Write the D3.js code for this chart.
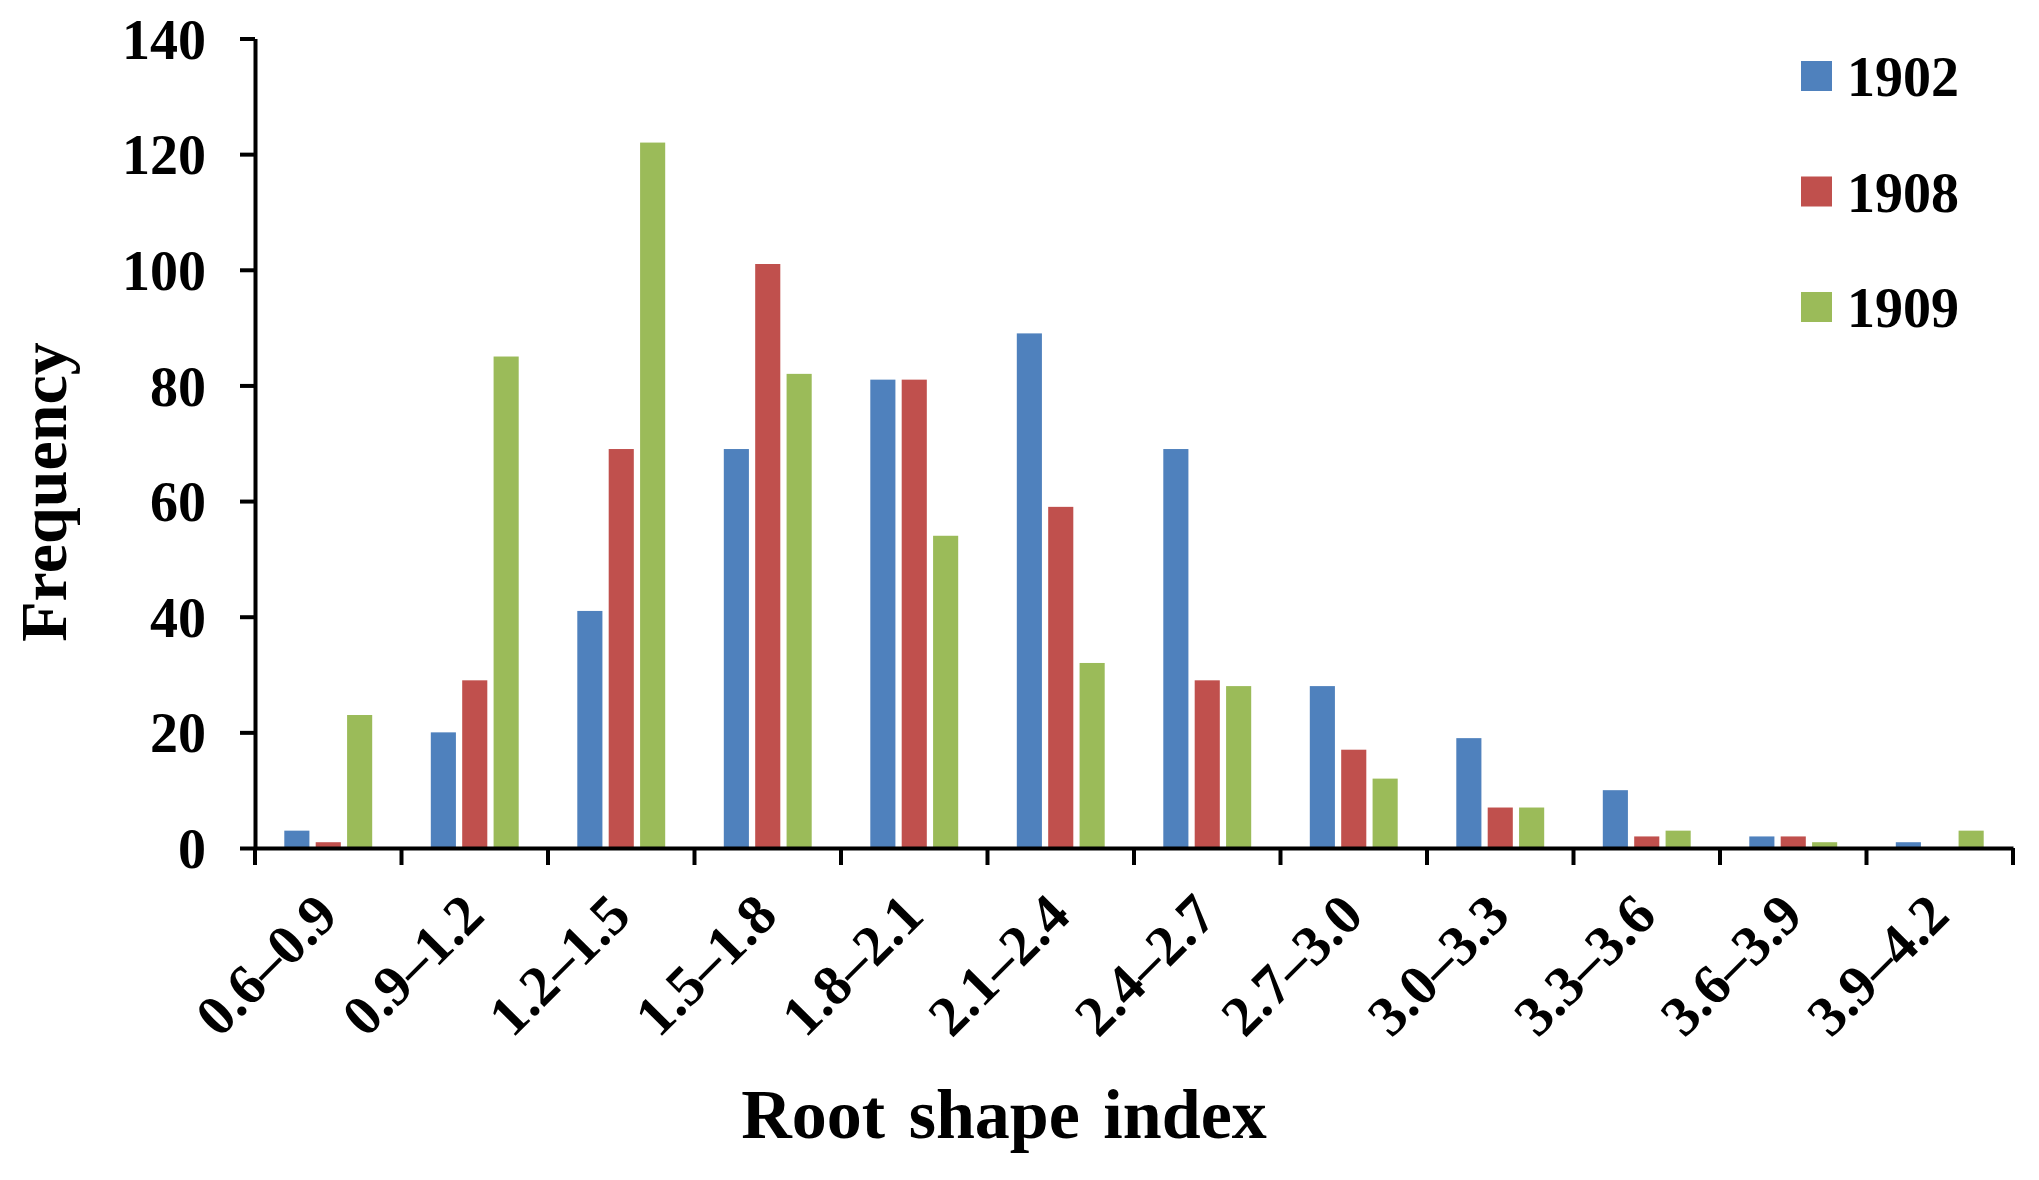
<!DOCTYPE html>
<html>
<head>
<meta charset="utf-8">
<script src="https://cdn.jsdelivr.net/npm/d3@7"></script>
<style>
  html, body { margin: 0; padding: 0; background: #ffffff; }
  svg { display: block; }
  text { font-family: "Liberation Serif", "Times New Roman", serif; font-weight: bold; fill: #000; }
</style>
</head>
<body>
<svg id="chart" width="2039" height="1180"></svg>
<script>
// ---- data ----
const categories = ["0.6\u20130.9", "0.9\u20131.2", "1.2\u20131.5", "1.5\u20131.8", "1.8\u20132.1", "2.1\u20132.4",
                    "2.4\u20132.7", "2.7\u20133.0", "3.0\u20133.3", "3.3\u20133.6", "3.6\u20133.9", "3.9\u20134.2"];
const seriesNames = ["1902", "1908", "1909"];
const values1902 = [3, 20, 41, 69, 81, 89, 69, 28, 19, 10, 2, 1];
const values1908 = [1, 29, 69, 101, 81, 59, 29, 17, 7, 2, 2, 0];
const values1909 = [23, 85, 122, 82, 54, 32, 28, 12, 7, 3, 1, 3];
const yTicks = [0, 20, 40, 60, 80, 100, 120, 140];
const colors = ["#4F81BD", "#C0504D", "#9BBB59"];
const xTitle = "Root shape index";
const yTitle = "Frequency";

const seriesValues = [values1902, values1908, values1909];

// ---- layout ----
const svg = d3.select("#chart");
const plotLeft = 255, plotRight = 2013, plotTop = 38.5, plotBottom = 848;

const x0 = d3.scaleBand().domain(categories).range([plotLeft, plotRight]).paddingInner(0).paddingOuter(0);
const bw = x0.bandwidth();
const groupW = bw * 0.6;
const x1 = d3.scaleBand().domain(seriesNames)
  .range([(bw - groupW) / 2, (bw + groupW) / 2]).paddingInner(0.2).paddingOuter(0);
const y = d3.scaleLinear().domain([0, 140]).range([plotBottom, plotTop]);

// bars
const data = categories.map((c, i) => ({ cat: c, vals: seriesNames.map((s, j) => ({ s, j, v: seriesValues[j][i] })) }));
const groups = svg.append("g").selectAll("g").data(data).join("g")
  .attr("transform", d => `translate(${x0(d.cat)},0)`);
groups.selectAll("rect").data(d => d.vals).join("rect")
  .attr("x", d => x1(d.s))
  .attr("width", x1.bandwidth())
  .attr("y", d => y(d.v))
  .attr("height", d => y(0) - y(d.v))
  .attr("fill", d => colors[d.j]);

// y axis
const yAxis = svg.append("g").attr("transform", `translate(${plotLeft},0)`)
  .call(d3.axisLeft(y).tickValues(yTicks).tickSize(15).tickSizeOuter(0).tickPadding(34));
yAxis.select(".domain").attr("stroke", "#000").attr("stroke-width", 4);
yAxis.selectAll(".tick line").attr("stroke", "#000").attr("stroke-width", 4);
yAxis.selectAll(".tick text").style("font-size", "56px").style("font-family", "'Liberation Serif', serif").style("font-weight", "bold").attr("dy", "0.35em");

// x axis
const xAxis = svg.append("g").attr("transform", `translate(0,${plotBottom})`)
  .call(d3.axisBottom(x0).tickSize(0).tickSizeOuter(0).tickFormat(""));
xAxis.select(".domain").attr("stroke", "#000").attr("stroke-width", 4);
xAxis.selectAll(".tick").remove();
const bounds = categories.map(c => x0(c)).concat([x0(categories[categories.length - 1]) + bw]);
xAxis.selectAll("line.bound").data(bounds).join("line").attr("class", "bound")
  .attr("x1", d => d).attr("x2", d => d).attr("y1", 0).attr("y2", 17)
  .attr("stroke", "#000").attr("stroke-width", 4);

// x tick labels (rotated)
svg.append("g").selectAll("text").data(categories).join("text")
  .attr("transform", d => `translate(${x0(d) + bw / 2 + 12},${plotBottom + 70}) rotate(-45)`)
  .attr("text-anchor", "end")
  .style("font-size", "57px")
  .text(d => d);

// axis titles
svg.append("text")
  .attr("x", 1004).attr("y", 1138)
  .attr("text-anchor", "middle")
  .style("font-size", "70px")
  .style("word-spacing", "6px")
  .text(xTitle);

svg.append("text")
  .attr("transform", `translate(66,492) rotate(-90)`)
  .attr("text-anchor", "middle")
  .style("font-size", "66px")
  .text(yTitle);

// legend
const legend = svg.append("g").selectAll("g").data(seriesNames).join("g")
  .attr("transform", (d, i) => `translate(1801,${76 + i * 115.5})`);
legend.append("rect").attr("x", 0).attr("y", -15).attr("width", 31).attr("height", 30)
  .attr("fill", (d, i) => colors[i]);
legend.append("text").attr("x", 46).attr("y", 20).style("font-size", "56px").text(d => d);
</script>
</body>
</html>
